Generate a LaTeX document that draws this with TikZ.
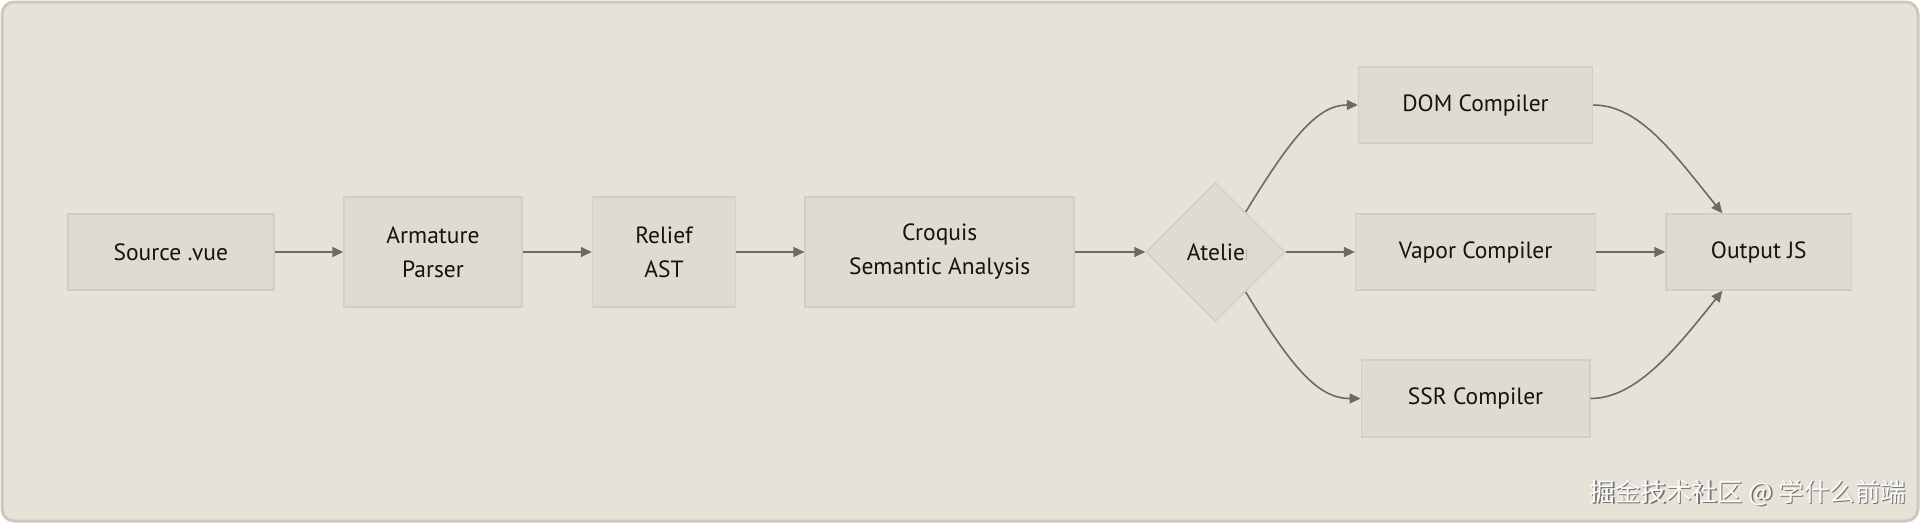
\documentclass[tikz,border=0pt]{standalone}
\usepackage{fontspec}
\setmainfont{PT Sans}
\newfontfamily\cjkfont{Noto Sans CJK SC}
\usetikzlibrary{arrows.meta,shapes.geometric,calc}
\definecolor{bgc}{HTML}{E6E2D7}
\definecolor{bgborder}{HTML}{CDC9BD}
\definecolor{nodefill}{HTML}{DFDBD1}
\definecolor{nodeborder}{HTML}{D2CEC3}
\definecolor{edgec}{HTML}{6B6A63}
\definecolor{txtc}{HTML}{131313}
\tikzset{
  box/.style={draw=nodeborder, fill=nodefill, line width=1.5pt, rectangle, inner sep=0pt,
    text=txtc, align=center, font=\fontsize{23.5}{34}\selectfont},
  decision/.style={draw=nodeborder, fill=nodefill, line width=1.5pt, diamond, inner sep=0pt,
    minimum width=139pt, minimum height=139pt},
  flow/.style={draw=edgec, line width=1.6pt, -{Triangle[length=11pt,width=10pt]}},
  lbl/.style={text=txtc, font=\fontsize{23.5}{34}\selectfont, inner sep=0pt}
}
\begin{document}
\begin{tikzpicture}[x=1pt,y=-1pt]
\useasboundingbox (0,0) rectangle (1920,523);
\draw[fill=bgc, draw=bgborder, line width=3pt, rounded corners=12pt] (2,2) rectangle (1918,521);

\node[box, minimum width=206pt, minimum height=76pt] (src) at (170.8,252) {Source .vue};
\node[box, minimum width=178pt, minimum height=110pt] (arm) at (433,252) {Armature\\Parser};
\node[box, minimum width=143pt, minimum height=110pt] (rel) at (664,252) {Relief\\AST};
\node[box, minimum width=269pt, minimum height=110pt] (cro) at (939.7,252) {Croquis\\Semantic Analysis};
\node[decision] (dia) at (1215.5,252) {};
\begin{scope}
  \clip (1150,225) rectangle (1246,280);
  \node[lbl] (dialbl) at (1220,252) {Atelier};
\end{scope}
\node[box, minimum width=234pt, minimum height=76pt] (dom) at (1475.5,105) {DOM Compiler};
\node[box, minimum width=240pt, minimum height=76pt] (vap) at (1475.6,252) {Vapor Compiler};
\node[box, minimum width=228.5pt, minimum height=77pt] (ssr) at (1475.5,398.5) {SSR Compiler};
\node[box, minimum width=185.6pt, minimum height=76pt] (out) at (1758.8,252) {Output JS};

\coordinate (dup) at ($(dia.north)!0.43!(dia.east)$);
\coordinate (ddn) at ($(dia.south)!0.43!(dia.east)$);
\coordinate (otop) at ($(out.north west)!0.305!(out.north east)$);
\coordinate (obot) at ($(out.south west)!0.305!(out.south east)$);

\draw[flow] (src.east) -- (arm.west);
\draw[flow] (arm.east) -- (rel.west);
\draw[flow] (rel.east) -- (cro.west);
\draw[flow] (cro.east) -- (dia.west);
\draw[flow] (dia.east) -- (vap.west);
\draw[flow] (vap.east) -- (out.west);
\draw[flow] (dup) .. controls (1292,136) and (1318,105) .. (dom.west);
\draw[flow] (ddn) .. controls (1292,368) and (1318,398.5) .. (ssr.west);
\draw[flow] (dom.east) .. controls (1640,105) and (1675,155) .. (otop);
\draw[flow] (ssr.east) .. controls (1636,398.5) and (1675,350) .. (obot);

\node[font=\cjkfont\fontsize{25.5}{30}\selectfont, text=black!55, inner sep=0pt] (wmshadow) at (1749.3,494.3) {掘金技术社区 @ 学什么前端};
\node[font=\cjkfont\fontsize{25.5}{30}\selectfont, text=white!85!bgc, inner sep=0pt] (wm) at (1748,493) {掘金技术社区 @ 学什么前端};
\end{tikzpicture}
\end{document}
